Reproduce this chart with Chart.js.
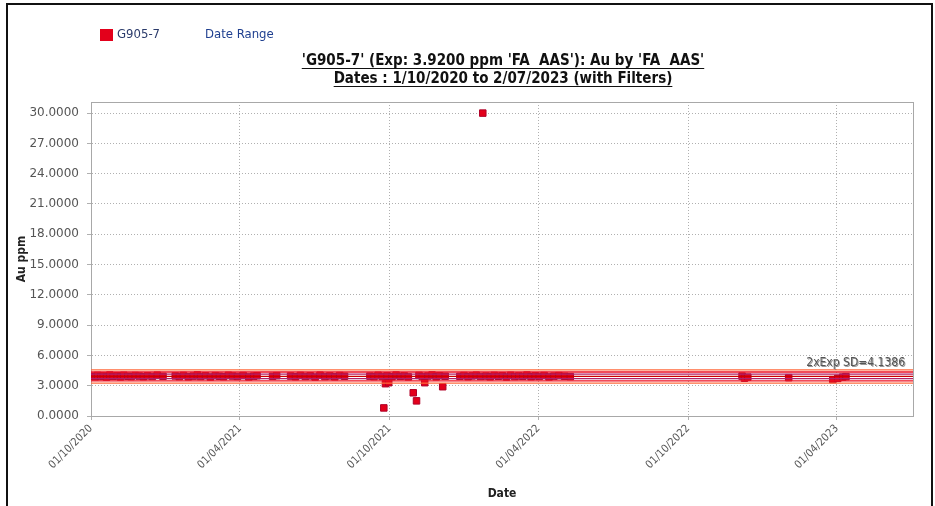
<!DOCTYPE html>
<html>
<head>
<meta charset="utf-8">
<script src="https://cdn.jsdelivr.net/npm/chart.js@4"></script>
<style>
  html, body { margin: 0; padding: 0; background: #fff; }
  #wrap { width: 935px; height: 506px; position: relative; }
</style>
</head>
<body>
<div id="wrap"><canvas id="chart" width="935" height="506"></canvas></div>
<script>
// sample dates and Au results (ppm) for standard G905-7
const sampleDates = [
    '2020-10-02', '2020-10-06', '2020-10-09', '2020-10-13', '2020-10-16', '2020-10-20', '2020-10-24', '2020-10-28',
    '2020-11-02', '2020-11-06', '2020-11-10', '2020-11-15', '2020-11-19', '2020-11-24', '2020-11-29',
    '2020-12-04', '2020-12-09', '2020-12-15', '2020-12-21', '2020-12-28',
    '2021-01-12', '2021-01-17', '2021-01-22', '2021-01-28', '2021-02-03', '2021-02-08', '2021-02-12', '2021-02-18',
    '2021-02-24', '2021-03-02', '2021-03-07', '2021-03-12', '2021-03-18', '2021-03-23', '2021-03-29',
    '2021-04-05', '2021-04-12', '2021-04-18', '2021-04-22',
    '2021-05-11', '2021-05-16',
    '2021-06-02', '2021-06-08', '2021-06-14', '2021-06-20', '2021-06-26', '2021-07-02', '2021-07-08',
    '2021-07-14', '2021-07-20', '2021-07-26', '2021-08-01', '2021-08-07',
    '2021-09-07', '2021-09-12', '2021-09-17', '2021-09-22', '2021-09-24', '2021-09-26', '2021-09-28', '2021-09-30',
    '2021-10-04', '2021-10-09', '2021-10-14', '2021-10-19', '2021-10-24', '2021-10-30', '2021-11-03',
    '2021-11-06', '2021-11-10', '2021-11-13', '2021-11-17', '2021-11-22', '2021-11-27', '2021-12-01',
    '2021-12-05', '2021-12-08',
    '2021-12-26', '2021-12-31', '2022-01-05', '2022-01-10', '2022-01-15', '2022-01-20', '2022-01-23',
    '2022-01-27', '2022-02-01', '2022-02-06', '2022-02-11', '2022-02-16', '2022-02-21', '2022-02-26',
    '2022-03-03', '2022-03-08', '2022-03-13', '2022-03-18', '2022-03-23', '2022-03-28', '2022-04-02',
    '2022-04-08', '2022-04-14', '2022-04-20', '2022-04-26',
    '2022-05-03', '2022-05-10',
    '2022-12-06', '2022-12-09', '2022-12-13',
    '2023-02-01',
    '2023-03-27', '2023-04-02', '2023-04-08', '2023-04-12'
];
const auValues = [
    3.95, 3.88, 4.02, 3.91, 3.97, 3.85, 4.05, 3.93,
    3.99, 3.87, 4.03, 3.94, 3.90, 4.01, 3.96,
    3.89, 3.98, 3.92, 4.04, 3.93,
    3.97, 3.90, 4.02, 3.88, 3.95, 4.06, 3.91, 3.99,
    3.86, 4.00, 3.94, 3.89, 4.03, 3.96, 3.92,
    4.01, 3.87, 3.95, 3.99,
    3.93, 4.00,
    3.96, 3.89, 4.02, 3.92, 3.98, 3.86, 4.04,
    3.91, 3.97, 3.88, 4.01, 3.94,
    3.95, 3.90, 4.03, 3.92, 0.80, 3.20, 3.98, 3.30,
    3.89, 4.05, 3.93, 3.97, 3.87, 2.30, 1.50,
    4.02, 3.91, 3.30, 3.96, 4.06, 3.88, 3.99,
    2.90, 3.94,
    3.93, 4.01, 3.89, 3.97, 4.04, 3.92, 30.00,
    3.96, 3.88, 4.02, 3.94, 3.99, 3.86, 4.03,
    3.91, 3.97, 3.93, 4.05, 3.89, 3.98, 3.92,
    4.01, 3.87, 3.95, 4.00,
    3.94, 3.90,
    3.95, 3.75, 3.85,
    3.80,
    3.60, 3.72, 3.85, 3.90
];

// expected value and control lines
const expValue = 3.92;
const sdLevels = [3.2642, 3.4828, 3.7014, 3.92, 4.1386, 4.3572, 4.5758];
const sdColors = ['#ff6a3d', '#ee1122', '#b0206a', '#cc0000', '#b0206a', '#ee1122', '#ff6a3d'];
const sdLabel = '2xExp SD=4.1386';

const xTickDates = ['2020-10-01', '2021-04-01', '2021-10-01', '2022-04-01', '2022-10-01', '2023-04-01'];
const yTicks = [0, 3, 6, 9, 12, 15, 18, 21, 24, 27, 30];

const xStart = '2020-10-01';
const xEnd = '2023-07-03';

function toMs(s) {
    const p = s.split('-');
    return Date.UTC(+p[0], +p[1] - 1, +p[2]);
}
function fmtDate(ms) {
    const d = new Date(ms);
    const dd = String(d.getUTCDate()).padStart(2, '0');
    const mm = String(d.getUTCMonth() + 1).padStart(2, '0');
    return dd + '/' + mm + '/' + d.getUTCFullYear();
}

const FONT = '"DejaVu Sans Condensed", "DejaVu Sans", sans-serif';
const FONT_WIDE = '"DejaVu Sans", sans-serif';

const points = sampleDates.map((d, i) => ({ x: toMs(d), y: auValues[i] }));

const lineSets = sdLevels.map((v, i) => ({
    type: 'line',
    label: 'sd' + i,
    data: [{ x: toMs(xStart), y: v }, { x: toMs(xEnd), y: v }],
    borderColor: sdColors[i],
    borderWidth: 1.3,
    pointRadius: 0,
    fill: false,
    order: 0
}));

// frame, legend, titles, plot border //
const decorations = {
    id: 'decorations',
    beforeDatasetsDraw(c) {
        const a = c.chartArea;
        const ctx = c.ctx;
        ctx.save();
        ctx.strokeStyle = '#a8a8a8';
        ctx.lineWidth = 1;
        ctx.strokeRect(a.left + 0.5, a.top + 0.5, a.right - a.left, a.bottom - a.top);
        ctx.restore();
    },
    afterDraw(c) {
        const ctx = c.ctx;
        const a = c.chartArea;
        ctx.save();

        // outer frame
        ctx.strokeStyle = '#111';
        ctx.lineWidth = 2;
        ctx.beginPath();
        ctx.moveTo(7, 506);
        ctx.lineTo(7, 4);
        ctx.lineTo(932, 4);
        ctx.lineTo(932, 506);
        ctx.stroke();

        // legend
        ctx.fillStyle = '#e3001b';
        ctx.fillRect(100, 29, 13, 12);
        ctx.font = '13px ' + FONT;
        ctx.textBaseline = 'middle';
        ctx.textAlign = 'left';
        ctx.fillStyle = '#2b3b6b';
        ctx.fillText('G905-7', 117, 35);
        ctx.fillStyle = '#1f3f8f';
        ctx.fillText('Date Range', 205, 35);

        // titles, underlined
        const titles = [
            "'G905-7' (Exp: 3.9200 ppm 'FA  AAS'): Au by 'FA  AAS'",
            'Dates : 1/10/2020 to 2/07/2023 (with Filters)'
        ];
        ctx.font = 'bold 15px ' + FONT;
        ctx.fillStyle = '#111';
        ctx.strokeStyle = '#111';
        ctx.lineWidth = 1;
        ctx.textAlign = 'center';
        ctx.textBaseline = 'alphabetic';
        titles.forEach((t, i) => {
            const y = 65 + i * 18;
            ctx.fillText(t, 503, y);
            const w = ctx.measureText(t).width;
            ctx.beginPath();
            ctx.moveTo(503 - w / 2, y + 3.5);
            ctx.lineTo(503 + w / 2, y + 3.5);
            ctx.stroke();
        });

        // control line label
        const ys = c.scales.y;
        ctx.font = '12px ' + FONT;
        ctx.fillStyle = '#555';
        ctx.textAlign = 'right';
        ctx.textBaseline = 'bottom';
        const ly = ys.getPixelForValue(sdLevels[6]) - 1;
        ctx.fillText(sdLabel, a.right - 8, ly);
        ctx.globalAlpha = 0.6;
        ctx.fillText(sdLabel, a.right - 7, ly + 1);
        ctx.restore();
    }
};

new Chart(document.getElementById('chart'), {
    type: 'scatter',
    data: {
        datasets: [
            {
                label: 'G905-7',
                data: points,
                pointStyle: 'rect',
                pointRadius: 4.6,
                pointHoverRadius: 4.6,
                backgroundColor: '#e3001b',
                borderColor: '#b00028',
                borderWidth: 1,
                order: 1
            },
            ...lineSets
        ]
    },
    options: {
        responsive: false,
        animation: false,
        events: [],
        layout: { padding: { top: 102, left: 10, right: 22, bottom: 0 } },
        plugins: {
            legend: { display: false },
            title: { display: false },
            tooltip: { enabled: false }
        },
        scales: {
            x: {
                type: 'linear',
                min: toMs(xStart),
                max: toMs(xEnd),
                afterBuildTicks: (s) => { s.ticks = xTickDates.map(d => ({ value: toMs(d) })); },
                afterFit: (s) => { s.height = 90; },
                ticks: {
                    autoSkip: false,
                    minRotation: 45,
                    maxRotation: 45,
                    padding: 2,
                    color: '#555',
                    font: { family: FONT, size: 11 },
                    callback: (v) => fmtDate(v)
                },
                grid: { color: '#b0b0b0', tickLength: 4, drawOnChartArea: true },
                border: { display: true, color: '#a8a8a8', dash: [1, 2] },
                title: {
                    display: true,
                    text: 'Date',
                    color: '#222',
                    padding: { top: 0, bottom: 5 },
                    font: { family: FONT, size: 12, weight: 'bold' }
                }
            },
            y: {
                min: 0,
                max: 31.1,
                afterBuildTicks: (s) => { s.ticks = yTicks.map(v => ({ value: v })); },
                afterFit: (s) => { s.width = 81; },
                ticks: {
                    padding: 8,
                    color: '#555',
                    font: { family: FONT_WIDE, size: 12 },
                    callback: (v) => Number(v).toFixed(4)
                },
                grid: { color: '#b0b0b0', tickLength: 4 },
                border: { display: true, color: '#a8a8a8', dash: [1, 2] },
                title: {
                    display: true,
                    text: 'Au ppm',
                    color: '#222',
                    padding: { top: 5, bottom: 0 },
                    font: { family: FONT, size: 12, weight: 'bold' }
                }
            }
        }
    },
    plugins: [decorations]
});
</script>
</body>
</html>
